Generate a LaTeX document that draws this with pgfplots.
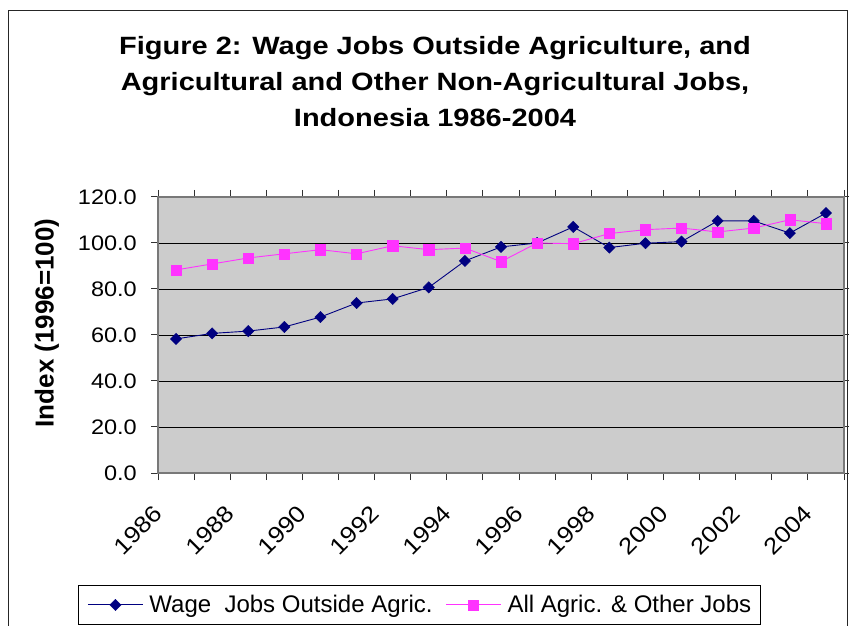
\documentclass[border=0pt]{standalone}
\usepackage{graphicx}
\usepackage{fontspec}
\setmainfont{Liberation Sans}
\newfontfamily\titlefont{Liberation Sans}[FakeStretch=1.16]
\newfontfamily\ytickfont{Liberation Sans}[FakeStretch=1.12]
\newcommand\xtf{\ytickfont\fontsize{23bp}{27bp}\selectfont}
\newcommand\rl[1]{\rotatebox{45}{\xtf #1}}
\usepackage{pgfplots}
\pgfplotsset{compat=1.18}
\definecolor{plotgray}{RGB}{204,204,204}
\definecolor{wageblue}{RGB}{0,0,128}
\definecolor{agpink}{RGB}{255,51,255}
\definecolor{framegray}{RGB}{120,120,120}
\begin{document}
\begin{tikzpicture}
\useasboundingbox (0bp,0bp) rectangle (849bp,626bp);
\clip (0bp,0bp) rectangle (849bp,626bp);
\draw[line width=1.2bp, black!85] (8.5bp,-10bp) -- (8.5bp,615.5bp) -- (847.5bp,615.5bp) -- (847.5bp,-10bp);
\node[font=\titlefont\bfseries\fontsize{25bp}{30bp}\selectfont, anchor=base] at (435bp,571bp) {Figure 2: Wage Jobs Outside Agriculture, and};
\node[font=\titlefont\bfseries\fontsize{25bp}{30bp}\selectfont, anchor=base] at (435bp,535bp) {Agricultural and Other Non-Agricultural Jobs,};
\node[font=\titlefont\bfseries\fontsize{25bp}{30bp}\selectfont, anchor=base] at (435bp,499bp) {Indonesia 1986-2004};
\begin{axis}[
  at={(158bp,153bp)}, anchor=south west, scale only axis,
  width=686bp, height=276bp,
  xmin=-0.5, xmax=18.5, ymin=0, ymax=120,
  axis background/.style={fill=plotgray},
  axis line style={draw=framegray, line width=1.5bp},
  ytick={0,20,...,120},
  ymajorgrids, grid style={black, line width=0.9bp},
  tick align=outside,
  major tick length=7bp, minor tick length=7bp,
  tick style={black!80, line width=1bp},
  xtick={0,2,...,18},
  xticklabels={\rl{1986},\rl{1988},\rl{1990},\rl{1992},\rl{1994},\rl{1996},\rl{1998},\rl{2000},\rl{2002},\rl{2004}},
  major x tick style={draw=none},
  minor xtick={-0.5,0.5,...,18.5},
  xticklabel style={anchor=north east, inner sep=0pt, xshift=-12bp, yshift=-24bp},
  yticklabel style={font=\ytickfont\fontsize{21bp}{25bp}\selectfont, inner sep=0pt, anchor=east, xshift=-14bp},
  yticklabel={\pgfmathprintnumber[fixed,fixed zerofill,precision=1]{\tick}},
  /pgf/number format/assume math mode=true,
  ylabel={Index (1996=100)},
  ylabel style={font=\bfseries\fontsize{26bp}{30bp}\selectfont, at={(axis description cs:-0.162,0.5435)}, anchor=center},
  legend style={at={(axis description cs:-0.1166,-0.4058)}, anchor=north west,
    legend columns=2, draw=black, line width=1bp, inner xsep=9bp, inner ysep=8bp,
    font=\fontsize{24bp}{28bp}\selectfont,
    nodes={inner xsep=0pt, inner ysep=2bp},
    /tikz/every odd column/.append style={column sep=6bp},
    /tikz/every even column/.append style={column sep=13bp},
    cells={anchor=west}},
  legend image code/.code={\draw[mark repeat=2,mark phase=2,#1] plot coordinates {(0bp,0bp) (27.5bp,0bp) (55bp,0bp)};},
]
\addplot[color=wageblue, line width=0.9bp, mark=square*, mark size=4bp,
  mark options={solid, rotate=45, fill=wageblue, draw=wageblue, line width=0.4bp}]
  coordinates {(0,58.3) (1,60.7) (2,61.7) (3,63.5) (4,67.8) (5,73.9) (6,75.7) (7,80.7) (8,92.2) (9,98.3) (10,100.0) (11,107.0) (12,98.0) (13,99.9) (14,100.6) (15,109.6) (16,109.6) (17,104.3) (18,113.0)};
\addlegendentry{Wage\ \ Jobs Outside Agric.}
\addplot[color=agpink, line width=0.9bp, mark=square*, mark size=5.1bp,
  mark options={solid, fill=agpink, draw=agpink, line width=0.4bp}]
  coordinates {(0,88.3) (1,90.9) (2,93.5) (3,95.3) (4,97.1) (5,95.3) (6,98.8) (7,97.1) (8,97.8) (9,91.9) (10,100.0) (11,99.7) (12,104.1) (13,105.8) (14,106.5) (15,104.8) (16,106.5) (17,110.1) (18,108.4)};
\addlegendentry{All Agric. \& Other Jobs}
\end{axis}
\end{tikzpicture}
\end{document}
